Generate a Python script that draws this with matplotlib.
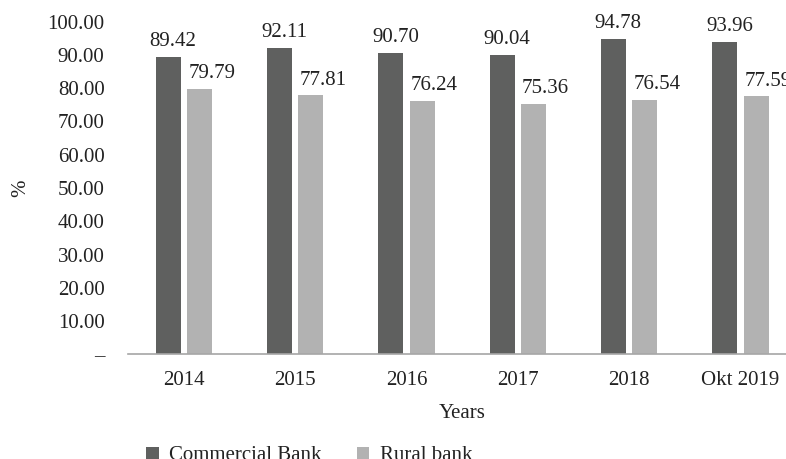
import matplotlib.pyplot as plt
import numpy as np

years = ['2014', '2015', '2016', '2017', '2018', 'Okt 2019']
commercial = [89.42, 92.11, 90.70, 90.04, 94.78, 93.96]
rural = [79.79, 77.81, 76.24, 75.36, 76.54, 77.59]
yticks = [0, 10, 20, 30, 40, 50, 60, 70, 80, 90, 100]

plt.rcParams['font.family'] = ['Liberation Serif', 'DejaVu Serif']

fig = plt.figure(figsize=(7.86, 4.59), dpi=100)
ax = fig.add_axes([0.163, 0.228, 0.85, 0.725])

x = np.arange(len(years))
w = 0.225
b1 = ax.bar(x - 0.14, commercial, w, color='#5f605f', label='Commercial Bank')
b2 = ax.bar(x + 0.14, rural, w, color='#b2b2b2', label='Rural bank')

# labels sit a little right of the bars, like the original
for bars, vals, dx in [(b1, commercial, 0.04), (b2, rural, 0.11)]:
    for r, v in zip(bars, vals):
        ax.annotate(f'{v:.2f}', (r.get_x() + r.get_width() / 2 + dx, v),
                    xytext=(0, 4), textcoords='offset points',
                    ha='center', va='bottom', fontsize=15, color='#222222')

ax.set_xlim(-0.5, len(years) - 0.5)
ax.set_ylim(0, 100)
ax.set_yticks(yticks)
ax.set_yticklabels(['–'] + [f'{t:.2f}' for t in yticks[1:]], fontsize=15, color='#222222')
ax.set_xticks(x)
ax.set_xticklabels(years, fontsize=15, color='#222222')
ax.tick_params(axis='y', length=0, pad=17)
ax.tick_params(axis='x', length=0, pad=12)

for s in ['top', 'right', 'left']:
    ax.spines[s].set_visible(False)
ax.spines['bottom'].set_color('#a6a6a6')
ax.spines['bottom'].set_linewidth(1.2)

ax.set_xlabel('Years', fontsize=15, color='#222222', labelpad=10)
ax.set_ylabel('%', fontsize=15, color='#222222', labelpad=12)

fig.legend(loc='lower left', bbox_to_anchor=(0.162, -0.055), ncol=2, frameon=False,
           fontsize=15, handlelength=0.6, handleheight=0.6, columnspacing=1.7,
           handletextpad=0.5, labelcolor='#222222')

fig.savefig('out.png', dpi=100)
